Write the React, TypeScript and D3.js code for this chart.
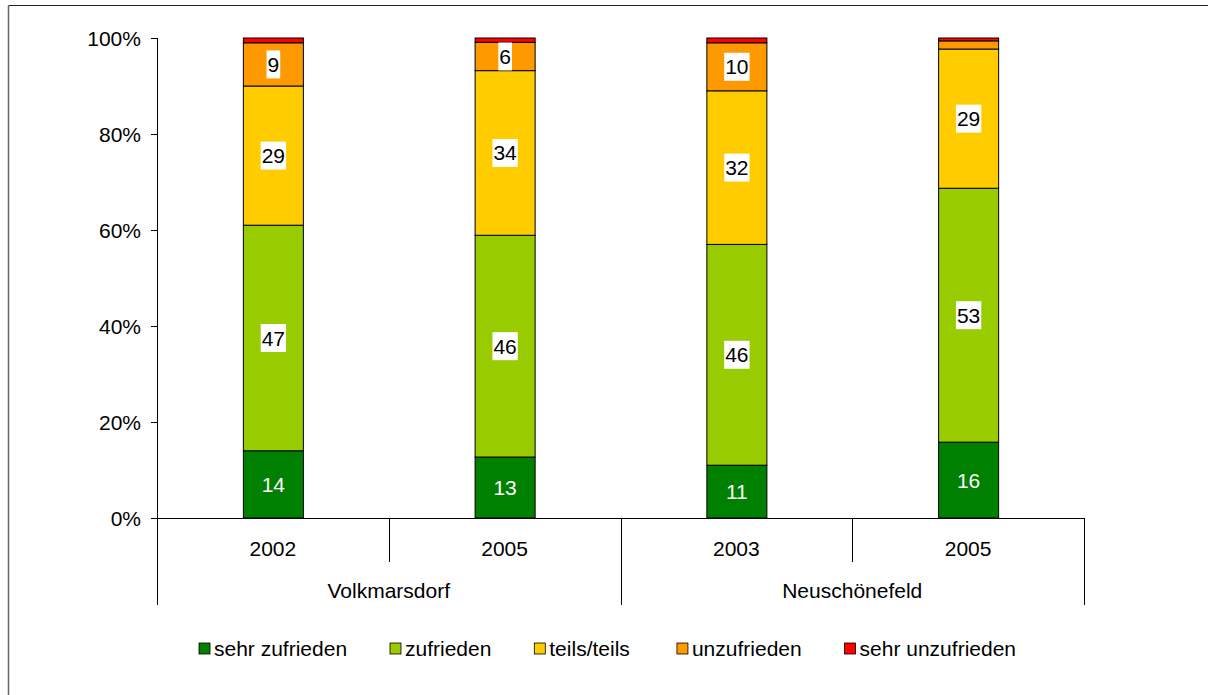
import React from "react";
import * as d3 from "d3";

const years = ["2002", "2005", "2003", "2005"];
const groupNames = ["Volkmarsdorf", "Neuschönefeld"];
const groupOf = [0, 0, 1, 1];
const seriesNames = ["sehr zufrieden", "zufrieden", "teils/teils", "unzufrieden", "sehr unzufrieden"];
const seriesColors = ["#008000", "#99CC00", "#FFCC00", "#FF9900", "#FF0000"];
const sehrZufrieden = [14, 12.7, 11, 15.8];
const zufrieden = [47, 46.2, 46, 52.9];
const teilsTeils = [29, 34.3, 32, 29];
const unzufrieden = [9, 5.9, 10, 1.7];
const sehrUnzufrieden = [1, 0.9, 1, 0.6];
const yTicks = [0, 20, 40, 60, 80, 100];

const W = 1208;
const H = 695;
const FONT = "Liberation Sans, Arial, sans-serif";
const FS = 21;

export default function App() {
  const x = d3
    .scaleBand<number>()
    .domain([0, 1, 2, 3])
    .range([157, 1084])
    .paddingInner(0.741)
    .paddingOuter(0.3705);
  const y = d3.scaleLinear().domain([0, 100]).range([518, 38]);
  const step = x.step();
  const slotStart = (i: number) => 157 + i * step;

  const values = [sehrZufrieden, zufrieden, teilsTeils, unzufrieden, sehrUnzufrieden];
  const table = years.map((yr, i) => {
    const row: Record<string, number> = { idx: i };
    seriesNames.forEach((s, k) => (row[s] = values[k][i]));
    return row;
  });
  const stack = d3.stack<Record<string, number>>().keys(seriesNames)(table);

  const em = [6.336, 4.113, 4.034, 5.225, 7.448];
  const legendWidths = em.map((e) => e * FS);
  const sq = 11;
  const gapSqText = 4;
  const legStart = 199;
  const legEnd = 1016;
  const fixed = legendWidths.reduce((a, b) => a + b, 0) + seriesNames.length * (sq + gapSqText);
  const gapItems = (legEnd - legStart - fixed) / (seriesNames.length - 1);
  let lx = legStart;
  const legendPos = legendWidths.map((w) => {
    const p = lx;
    lx += sq + gapSqText + w + gapItems;
    return p;
  });

  return (
    <svg
      width={W}
      height={H}
      style={{ position: "absolute", left: 0, top: 0, background: "#fff" }}
      fontFamily={FONT}
    >
      <rect x={0} y={0} width={W} height={H} fill="#fff" />
      <line x1={8.5} y1={5.5} x2={W + 10} y2={5.5} stroke="#222" strokeWidth={1.2} />
      <line x1={8.5} y1={5.5} x2={8.5} y2={H + 10} stroke="#666" strokeWidth={1.5} />

      {stack.map((layer, k) =>
        layer.map((d, i) => (
          <rect
            key={`r${k}-${i}`}
            x={x(i)! + 0.5}
            y={y(d[1])}
            width={x.bandwidth()}
            height={y(d[0]) - y(d[1])}
            fill={seriesColors[k]}
            stroke="#000"
            strokeWidth={1}
          />
        ))
      )}

      {stack.map((layer, k) =>
        layer.map((d, i) => {
          const v = values[k][i];
          if (k === 4 || v < 3) return null;
          const cx = x(i)! + x.bandwidth() / 2 + 0.5;
          const cy = (y(d[0]) + y(d[1])) / 2;
          const txt = String(Math.round(v));
          const tw = txt.length * 0.556 * FS;
          if (k === 0) {
            return (
              <text key={`l${k}-${i}`} x={cx} y={cy + 7.5} textAnchor="middle" fontSize={FS} fill="#fff">
                {txt}
              </text>
            );
          }
          return (
            <g key={`l${k}-${i}`}>
              <rect x={cx - tw / 2 - 1} y={cy - 14} width={tw + 2} height={28} fill="#fff" />
              <text x={cx} y={cy + 7.5} textAnchor="middle" fontSize={FS} fill="#000">
                {txt}
              </text>
            </g>
          );
        })
      )}

      <line x1={157.5} y1={38} x2={157.5} y2={605} stroke="#000" />
      {yTicks.map((t) => (
        <g key={`t${t}`}>
          <line x1={151} y1={Math.round(y(t)) + 0.5} x2={157} y2={Math.round(y(t)) + 0.5} stroke="#000" />
          <text x={141} y={y(t) + 7.5} textAnchor="end" fontSize={FS} fill="#000">
            {t}%
          </text>
        </g>
      ))}
      <line x1={157} y1={518.5} x2={1084} y2={518.5} stroke="#000" />
      {years.map((yr, i) => (
        <text key={`y${i}`} x={x(i)! + x.bandwidth() / 2} y={556} textAnchor="middle" fontSize={FS} fill="#000">
          {yr}
        </text>
      ))}
      {[1, 3].map((i) => (
        <line key={`d${i}`} x1={Math.round(slotStart(i)) + 0.5} y1={518} x2={Math.round(slotStart(i)) + 0.5} y2={562} stroke="#000" />
      ))}
      {[2, 4].map((i) => (
        <line key={`g${i}`} x1={Math.round(slotStart(i)) + 0.5} y1={518} x2={Math.round(slotStart(i)) + 0.5} y2={605} stroke="#000" />
      ))}
      {groupNames.map((g, gi) => {
        const idx = groupOf.map((v, i) => (v === gi ? i : -1)).filter((i) => i >= 0);
        const a = slotStart(idx[0]);
        const b = slotStart(idx[idx.length - 1] + 1);
        return (
          <text key={`gn${gi}`} x={(a + b) / 2} y={598} textAnchor="middle" fontSize={FS} fill="#000">
            {g}
          </text>
        );
      })}

      {seriesNames.map((s, k) => (
        <g key={`lg${k}`}>
          <rect x={legendPos[k]} y={643} width={sq} height={sq} fill={seriesColors[k]} stroke="#000" strokeWidth={0.8} />
          <text x={legendPos[k] + sq + gapSqText} y={656} fontSize={FS} fill="#000">
            {s}
          </text>
        </g>
      ))}
    </svg>
  );
}
